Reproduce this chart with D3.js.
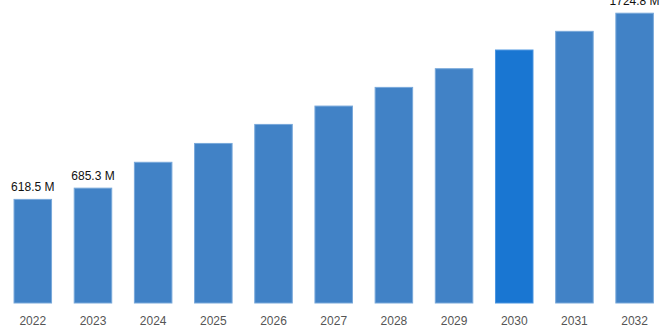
<!DOCTYPE html>
<html>
<head>
<meta charset="utf-8">
<script src="https://cdn.jsdelivr.net/npm/d3@7"></script>
<style>
  html, body { margin: 0; padding: 0; background: #fff; }
  svg { display: block; }
</style>
</head>
<body>
<svg id="chart" width="668" height="334"></svg>
<script>
// Market size by year, in millions
const years = ["2022", "2023", "2024", "2025", "2026", "2027", "2028", "2029", "2030", "2031", "2032"];
const values = [618.5, 685.3, 839, 951, 1064, 1173, 1284, 1395, 1506, 1617, 1724.8];
// Only these bars carry a value label
const labeledYears = ["2022", "2023", "2032"];
const highlightYear = "2030";

const W = 668, H = 334;
const baseY = 303;

const svg = d3.select("#chart");

const x = d3.scaleBand()
  .domain(years)
  .range([2.7, 664.7])
  .paddingInner(0.36)
  .paddingOuter(0.18);

const y = d3.scaleLinear()
  .domain([0, d3.max(values)])
  .range([baseY, 12.7]);

const data = years.map((yr, i) => ({ year: yr, value: values[i] }));

svg.append("g")
  .selectAll("rect")
  .data(data)
  .join("rect")
  .attr("x", d => x(d.year) + 0.5)
  .attr("y", d => y(d.value) + 0.5)
  .attr("width", x.bandwidth() - 1)
  .attr("height", d => baseY - y(d.value) - 0.5)
  .attr("fill", d => d.year === highlightYear ? "#1976d2" : "#4182c6")
  .attr("stroke", d => d.year === highlightYear ? "#4a95e0" : "#78a8da")
  .attr("stroke-width", 1);

// Value labels above selected bars
svg.append("g")
  .selectAll("text")
  .data(data.filter(d => labeledYears.includes(d.year)))
  .join("text")
  .attr("x", d => x(d.year) + x.bandwidth() / 2)
  .attr("y", d => y(d.value) - 8)
  .attr("text-anchor", "middle")
  .attr("font-family", "'Liberation Sans', Arial, sans-serif")
  .attr("font-size", 12)
  .attr("fill", "#111")
  .text(d => d.value.toFixed(1) + " M");

// Category axis, no domain line or ticks
const xAxis = svg.append("g")
  .attr("transform", `translate(0,${baseY})`)
  .call(d3.axisBottom(x).tickSize(0).tickPadding(13));
xAxis.select(".domain").remove();
xAxis.selectAll("text")
  .attr("font-family", "'Liberation Sans', Arial, sans-serif")
  .attr("font-size", 12)
  .attr("fill", "#555");
</script>
</body>
</html>
